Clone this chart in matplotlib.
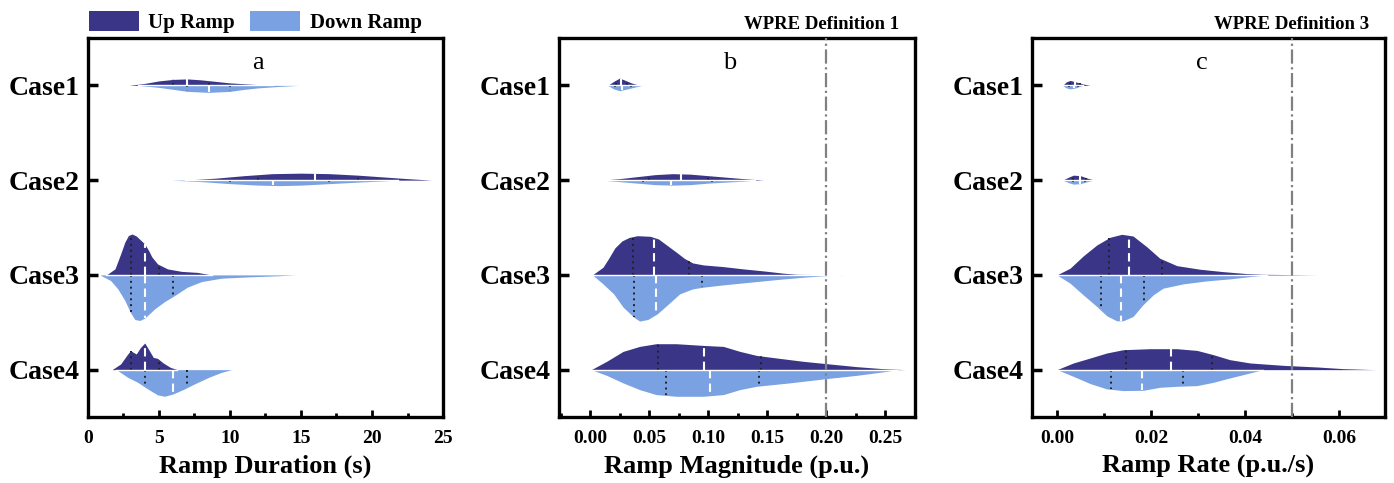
import numpy as np
import matplotlib
matplotlib.use("Agg")
import matplotlib.pyplot as plt
from matplotlib.patches import Patch
from matplotlib.ticker import AutoMinorLocator, FormatStrFormatter

plt.rcParams["font.family"] = ["Liberation Serif", "DejaVu Serif"]
plt.rcParams["font.weight"] = "bold"

# -------------------- 1. Data --------------------
CASES = ["Case1", "Case2", "Case3", "Case4"]
UP_COLOR = "#3a3587"
DOWN_COLOR = "#7aa2e2"

# half-violin outlines: x values and half widths (pixels at 95 px per case step)
dur_up_x = [
    [2.9, 4.0, 5.0, 6.0, 7.0, 8.0, 9.0, 10.0, 11.5, 13.0],
    [6.8, 9.0, 11.0, 13.0, 15.0, 17.0, 19.0, 21.0, 22.5, 24.2],
    [1.3, 1.9, 2.3, 2.6, 2.85, 3.1, 3.4, 3.7, 4.0, 4.25, 4.5, 4.9, 5.6, 6.6, 7.7, 8.7],
    [1.7, 2.3, 2.8, 3.0, 3.4, 3.7, 4.0, 4.2, 4.6, 4.9, 5.3, 5.8, 6.3],
]
dur_up_w = [
    [0, 2, 4.5, 6, 6.5, 5.5, 4, 2.5, 1.2, 0],
    [0, 2, 4.5, 6.5, 7, 6.5, 5, 3, 1.5, 0],
    [0, 6, 21, 33, 39.5, 41, 39, 35, 31, 25, 18, 11, 6, 3.5, 2.5, 0],
    [0, 5.7, 15.7, 19, 15.7, 22.3, 26.7, 22, 12.3, 11.3, 6.7, 2.3, 0],
]
dur_down_x = [
    [3.5, 5.0, 6.0, 7.0, 8.5, 10.0, 11.0, 12.0, 13.5, 14.8],
    [5.9, 8.0, 10.0, 12.0, 13.5, 15.0, 17.0, 19.0, 20.5, 21.8],
    [0.9, 1.6, 2.1, 2.6, 3.0, 3.3, 3.65, 4.0, 4.7, 5.4, 6.1, 7.0, 8.0, 9.4, 11.3, 13.2, 14.6],
    [2.0, 2.8, 3.5, 4.2, 4.9, 5.4, 6.0, 6.8, 7.5, 8.5, 9.4, 10.1],
]
dur_down_w = [
    [0, 2, 4, 6, 7, 6, 4, 2.5, 1, 0],
    [0, 1.5, 3.5, 5, 5.5, 5, 3.5, 2, 1, 0],
    [0.5, 5.7, 14, 25.7, 38, 44.7, 45.7, 43.3, 34, 26.7, 20.7, 12.3, 6.7, 3.3, 2, 1, 0],
    [0, 7.7, 12.7, 19.3, 25.3, 26.7, 24.3, 19.3, 14.3, 7.7, 2.7, 0],
]
dur_up_q = [[6.0, 7.0, 8.5], [12.0, 16.0, 19.0], [3.0, 4.0, 5.0], [3.0, 4.0, 5.0]]
dur_down_q = [[7.0, 8.5, 10.0], [10.0, 13.0, 17.0], [3.0, 4.0, 6.0], [4.0, 6.0, 7.0]]

mag_up_x = [
    [0.015, 0.020, 0.025, 0.030, 0.035, 0.042],
    [0.010, 0.025, 0.040, 0.055, 0.070, 0.085, 0.100, 0.115, 0.130, 0.147],
    [0.002, 0.011, 0.016, 0.021, 0.027, 0.033, 0.040, 0.051, 0.058, 0.066, 0.074, 0.080,
     0.087, 0.096, 0.113, 0.130, 0.147, 0.164, 0.175, 0.216],
    [0.001, 0.014, 0.028, 0.042, 0.056, 0.073, 0.096, 0.113, 0.127, 0.141, 0.158, 0.181,
     0.203, 0.226, 0.248, 0.267],
]
mag_up_w = [
    [0, 4, 7.3, 5, 2.5, 0],
    [0, 1.5, 3.5, 5.5, 6.5, 6, 4.5, 3, 1.5, 0],
    [0, 7.7, 17, 27, 34, 37.5, 39.3, 38.7, 36, 29, 22, 16.5, 12, 10, 8.3, 6, 4, 1.7, 0.6, 0],
    [0, 8.3, 18.3, 23.3, 26, 26, 24.3, 23.3, 18.3, 14.3, 11.7, 8.3, 5.7, 3, 1, 0],
]
mag_down_x = [
    [0.015, 0.020, 0.025, 0.030, 0.037, 0.044],
    [0.010, 0.025, 0.040, 0.055, 0.070, 0.085, 0.100, 0.115, 0.130, 0.140],
    [0.002, 0.011, 0.020, 0.028, 0.037, 0.042, 0.049, 0.057, 0.065, 0.076, 0.087, 0.096,
     0.113, 0.136, 0.158, 0.181, 0.197, 0.212],
    [0.001, 0.014, 0.028, 0.042, 0.056, 0.073, 0.096, 0.113, 0.127, 0.141, 0.169, 0.198,
     0.226, 0.248, 0.260],
]
mag_down_w = [
    [0, 3.5, 5.3, 4, 2, 0],
    [0, 1.5, 3, 4.5, 5, 4.5, 3, 2, 1, 0],
    [0, 9, 19, 32.3, 42.3, 46.3, 44.7, 39, 30.7, 19, 14, 12.3, 10, 7.3, 4.7, 2.3, 1, 0],
    [0, 5.7, 13.3, 20, 25, 26.7, 26.7, 25, 20, 16.7, 13.3, 9.3, 5.7, 2.3, 0],
]
mag_up_q = [[0.022, 0.026, 0.031], [0.050, 0.077, 0.100], [0.036, 0.054, 0.084], [0.058, 0.097, 0.145]]
mag_down_q = [[0.021, 0.027, 0.035], [0.045, 0.069, 0.103], [0.037, 0.056, 0.095], [0.064, 0.102, 0.143]]

rate_up_x = [
    [0.0012, 0.0020, 0.0028, 0.0040, 0.0055, 0.0070],
    [0.0012, 0.0025, 0.0035, 0.0050, 0.0065, 0.0081],
    [0.0, 0.0028, 0.0056, 0.0085, 0.0113, 0.0138, 0.0162, 0.0191, 0.0219, 0.0255, 0.0304,
     0.0353, 0.0404, 0.0439, 0.0553],
    [0.0, 0.0035, 0.0071, 0.0106, 0.0141, 0.0198, 0.0255, 0.0298, 0.0333, 0.0368, 0.0411,
     0.0482, 0.0553, 0.0609, 0.0677],
]
rate_up_w = [
    [0, 3.5, 5, 3.5, 1.5, 0],
    [0, 3, 5, 4.5, 2, 0],
    [0, 6.7, 19, 30, 37.7, 40.7, 39, 28.3, 16.7, 9.3, 5.7, 3.3, 1.3, 0.6, 0],
    [0, 6.7, 11.7, 16.7, 20, 21, 21, 19.3, 15, 10, 6.7, 4.3, 2.7, 1, 0],
]
rate_down_x = [
    [0.0012, 0.0020, 0.0028, 0.0040, 0.0055],
    [0.0012, 0.0025, 0.0035, 0.0050, 0.0065, 0.0078],
    [0.0, 0.0028, 0.0056, 0.0085, 0.0106, 0.0127, 0.0141, 0.0162, 0.0183, 0.0205, 0.0226,
     0.0269, 0.0319, 0.0368, 0.0411, 0.0447],
    [0.0, 0.0035, 0.0071, 0.0106, 0.0141, 0.0184, 0.0219, 0.0255, 0.0298, 0.0333, 0.0368,
     0.0411, 0.0438],
]
rate_down_w = [
    [0, 2.5, 3.5, 2.5, 0],
    [0, 2.5, 4, 3.5, 1.5, 0],
    [0, 8.3, 20, 31.7, 41, 46, 46, 41.7, 30, 20, 13.3, 9, 6, 4, 1.7, 0],
    [0, 6.7, 14, 19.3, 21, 20.7, 17.7, 16.7, 16, 12.7, 8.3, 3.3, 0],
]
rate_up_q = [[0.0028, 0.0038, 0.0050], [0.0035, 0.0049, 0.0062], [0.0111, 0.0153, 0.0224], [0.0146, 0.0242, 0.0330]]
rate_down_q = [[0.0026, 0.0036, 0.0045], [0.0035, 0.0049, 0.0060], [0.0094, 0.0136, 0.0185], [0.0115, 0.0181, 0.0268]]

PX = 1 / 95.0  # one pixel of half width in case-step units


# -------------------- 2. Helpers --------------------
def half_violin(ax, pos, xs, ws, quarts, color, sign):
    xs = np.asarray(xs, float)
    ws = np.asarray(ws, float) * PX
    ax.fill_between(xs, pos, pos + sign * ws, color=color, lw=0, zorder=2)
    for i, q in enumerate(quarts):
        h = np.interp(q, xs, ws)
        if i == 1:
            ax.plot([q, q], [pos, pos + sign * h], color="white", lw=1.5,
                    ls=(0, (4, 2.5)), zorder=3)
        else:
            ax.plot([q, q], [pos, pos + sign * h], color="#222222", lw=1.4,
                    ls=(0, (1, 2)), zorder=3)


def panel(ax, up_x, up_w, up_q, dn_x, dn_w, dn_q, xlim, ticks, fmt, xlabel, letter):
    for k in range(4):
        pos = k + 1
        half_violin(ax, pos, up_x[k], up_w[k], up_q[k], UP_COLOR, -1)
        half_violin(ax, pos, dn_x[k], dn_w[k], dn_q[k], DOWN_COLOR, 1)
        lo = max(up_x[k][0], dn_x[k][0])
        hi = min(up_x[k][-1], dn_x[k][-1])
        ax.plot([lo, hi], [pos, pos], color="white", lw=1.0, zorder=4)
    ax.set_ylim(4.5, 0.5)
    ax.set_yticks([1, 2, 3, 4])
    ax.set_yticklabels(CASES, fontsize=20)
    ax.set_xlim(*xlim)
    ax.set_xticks(ticks)
    ax.xaxis.set_major_formatter(FormatStrFormatter(fmt))
    ax.xaxis.set_minor_locator(AutoMinorLocator(2))
    ax.tick_params(axis="x", which="major", direction="in", length=5, width=2,
                   labelsize=14, pad=9)
    ax.tick_params(axis="x", which="minor", direction="in", length=3, width=2)
    ax.tick_params(axis="y", direction="in", length=7, width=2.5, pad=6)
    for s in ax.spines.values():
        s.set_linewidth(2.4)
    ax.set_xlabel(xlabel, fontsize=19, fontweight="bold", labelpad=6)
    ax.text(0.48, 0.935, letter, transform=ax.transAxes, ha="center", va="center",
            fontsize=19, fontweight="normal")


# -------------------- 3. Plot --------------------
fig = plt.figure(figsize=(13.94, 4.83), dpi=100)
ax_a = fig.add_axes([0.0631, 0.1366, 0.2547, 0.7847])
ax_b = fig.add_axes([0.4010, 0.1366, 0.2554, 0.7847])
ax_c = fig.add_axes([0.7403, 0.1366, 0.2532, 0.7847])

panel(ax_a, dur_up_x, dur_up_w, dur_up_q, dur_down_x, dur_down_w, dur_down_q,
      (0, 25), [0, 5, 10, 15, 20, 25], "%g", "Ramp Duration (s)", "a")
panel(ax_b, mag_up_x, mag_up_w, mag_up_q, mag_down_x, mag_down_w, mag_down_q,
      (-0.0263, 0.2754), [0, 0.05, 0.10, 0.15, 0.20, 0.25], "%.2f",
      "Ramp Magnitude (p.u.)", "b")
panel(ax_c, rate_up_x, rate_up_w, rate_up_q, rate_down_x, rate_down_w, rate_down_q,
      (-0.0053, 0.0698), [0, 0.02, 0.04, 0.06], "%.2f", "Ramp Rate (p.u./s)", "c")

# WPRE thresholds
for ax, thr, label in [(ax_b, 0.20, "WPRE Definition 1"), (ax_c, 0.05, "WPRE Definition 3")]:
    ax.axvline(thr, color="#808080", lw=1.6, ls="-.", zorder=5)
    ax.text(0.955, 1.012, label, transform=ax.transAxes, ha="right", va="bottom",
            fontsize=13.5)

handles = [Patch(facecolor=UP_COLOR, label="Up Ramp"),
           Patch(facecolor=DOWN_COLOR, label="Down Ramp")]
fig.legend(handles=handles, loc="upper left", bbox_to_anchor=(0.0635, 0.978), ncol=2,
           frameon=False, prop={"size": 15, "weight": "bold"}, handlelength=2.4,
           handleheight=1.15, handletextpad=0.45, columnspacing=0.75, borderpad=0,
           borderaxespad=0)

plt.savefig("out.png", dpi=100)
